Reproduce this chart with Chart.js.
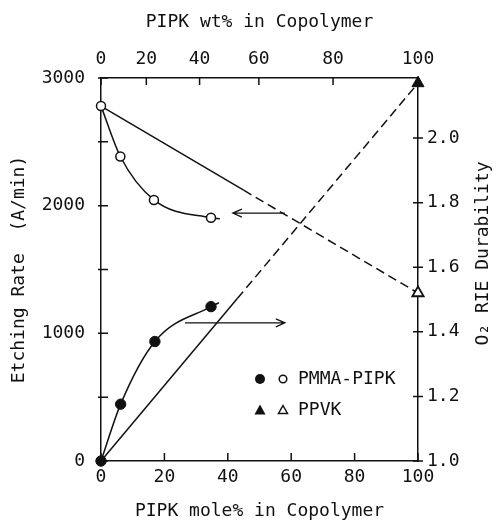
<!DOCTYPE html>
<html>
<head>
<meta charset="utf-8">
<script src="https://cdn.jsdelivr.net/npm/chart.js@4.4.0/dist/chart.umd.min.js"></script>
<style>
  html, body { margin: 0; padding: 0; background: #fff; }
  #wrap { width: 496px; height: 522px; }
</style>
</head>
<body>
<div id="wrap"><canvas id="chart" width="496" height="522"></canvas></div>
<script>
// ----------------------------------------------------
// DATA
// ----------------------------------------------------
const moleTicks = [0, 20, 40, 60, 80, 100];
const wtTickLabels = ["0", "20", "40", "60", "80", "100"];
const wtTickPos = [0, 14.3, 31.1, 49.8, 73.2, 100];   // mole% where each wt% tick sits
const rateTicks = [0, 500, 1000, 1500, 2000, 2500, 3000];
const durTicks = [1.0, 1.2, 1.4, 1.6, 1.8, 2.0];

// PMMA-PIPK etching rate (open circles, left axis)
const etchMole = [0, 6.1, 16.7, 34.7];
const etchRate = [2780, 2385, 2045, 1905];
const etchCurveMole = [0, 6.1, 16.7, 34.7, 37.5];
const etchCurveRate = [2780, 2385, 2045, 1905, 1898];

// PMMA-PIPK O2 RIE durability (filled circles, right axis)
const durMole = [0, 6.2, 17.0, 34.7];
const durValue = [1.0, 1.176, 1.37, 1.478];
const durCurveMole = [0, 6.2, 17.0, 34.7, 37.2];
const durCurveValue = [1.0, 1.176, 1.37, 1.478, 1.49];

// PPVK at 100 mole%
const ppvkMole = [100];
const ppvkRate = [1316];
const ppvkDur = [2.17];

// straight lines: solid over the measured range, dashed beyond
const rateLineMole = [0, 45, 100];
const rateLineVal = [2780, 2121, 1316];
const durLineMole = [0, 43, 100];
const durLineVal = [1.0, 1.503, 2.17];

const FONT = "'DejaVu Sans Mono', 'Liberation Mono', monospace";
const INK = "#111";

const pts = (xs, ys) => xs.map((x, i) => ({ x, y: ys[i] }));
const dashAfter = lim => ({ borderDash: c => c.p0.parsed.x >= lim ? [9, 5] : undefined });

// ----------------------------------------------------
// PLUGINS
// ----------------------------------------------------
const innerTicks = {
    id: "innerTicks",
    beforeDatasetsDraw(chart) {
        const { ctx, scales } = chart;
        ctx.save();
        ctx.strokeStyle = INK;
        ctx.lineWidth = 1.5;
        ctx.beginPath();
        scales.x.ticks.forEach(t => {
            const p = scales.x.getPixelForValue(t.value);
            ctx.moveTo(p, scales.x.top); ctx.lineTo(p, scales.x.top - 8);
        });
        scales.x2.ticks.forEach(t => {
            const p = scales.x2.getPixelForValue(t.value);
            ctx.moveTo(p, scales.x2.bottom); ctx.lineTo(p, scales.x2.bottom + 7);
        });
        scales.y.ticks.forEach(t => {
            const p = scales.y.getPixelForValue(t.value);
            ctx.moveTo(scales.y.right - 3, p); ctx.lineTo(scales.y.right + 7, p);
        });
        scales.y2.ticks.forEach(t => {
            const p = scales.y2.getPixelForValue(t.value);
            ctx.moveTo(scales.y2.left - 5, p); ctx.lineTo(scales.y2.left + 5, p);
        });
        ctx.stroke();
        ctx.restore();
    }
};

const notes = {
    id: "notes",
    afterDraw(chart) {
        const { ctx, scales, chartArea } = chart;
        const X = scales.x;
        ctx.save();
        ctx.strokeStyle = INK;
        ctx.fillStyle = INK;
        ctx.lineWidth = 1.3;

        // arrows pointing to the axis each curve belongs to
        const arrows = [
            { x0: 58, x1: 41.6, y: 1942, s: scales.y },
            { x0: 26.5, x1: 58, y: 1.428, s: scales.y2 }
        ];
        arrows.forEach(a => {
            const x0 = X.getPixelForValue(a.x0), x1 = X.getPixelForValue(a.x1);
            const y = a.s.getPixelForValue(a.y);
            const d = Math.sign(x1 - x0);
            ctx.beginPath();
            ctx.moveTo(x0, y); ctx.lineTo(x1, y);
            ctx.moveTo(x1 - d * 9, y - 4); ctx.lineTo(x1, y); ctx.lineTo(x1 - d * 9, y + 4);
            ctx.stroke();
        });

        // legend
        const lx = 260, ly = 379;
        ctx.lineWidth = 1.5;
        ctx.beginPath(); ctx.arc(lx, ly, 5, 0, Math.PI * 2); ctx.fill();
        ctx.beginPath(); ctx.arc(lx + 23, ly, 3.8, 0, Math.PI * 2); ctx.stroke();
        const ty = ly + 31;
        ctx.beginPath();
        ctx.moveTo(lx, ty - 5.5); ctx.lineTo(lx + 5.5, ty + 4.5); ctx.lineTo(lx - 5.5, ty + 4.5);
        ctx.closePath(); ctx.fill();
        ctx.beginPath();
        ctx.moveTo(lx + 23, ty - 4.5); ctx.lineTo(lx + 27.5, ty + 3.5); ctx.lineTo(lx + 18.5, ty + 3.5);
        ctx.closePath(); ctx.stroke();
        ctx.font = "18px " + FONT;
        ctx.textBaseline = "middle";
        ctx.textAlign = "left";
        ctx.fillText("PMMA-PIPK", lx + 38, ly);
        ctx.fillText("PPVK", lx + 38, ty);

        // right axis title, reading bottom to top
        ctx.translate(chart.width - 13, (chartArea.top + chartArea.bottom) / 2 - 16);
        ctx.rotate(-Math.PI / 2);
        ctx.textAlign = "center";
        ctx.fillText("O\u2082 RIE Durability", 0, 0);
        ctx.restore();
    }
};

// ----------------------------------------------------
// CHART
// ----------------------------------------------------
const tickFont = { family: FONT, size: 18 };
const border = { display: true, color: INK, width: 1.5 };
const noGrid = { display: false, drawTicks: false, tickLength: 0 };

new Chart(document.getElementById("chart"), {
    type: "line",
    data: {
        datasets: [
            { data: pts(etchMole, etchRate), yAxisID: "y", showLine: false, clip: false,
              pointRadius: 4.5, pointBackgroundColor: "#fff", pointBorderColor: INK, pointBorderWidth: 1.5 },
            { data: pts(durMole, durValue), yAxisID: "y2", showLine: false, clip: false,
              pointRadius: 5.2, pointBackgroundColor: INK, pointBorderColor: INK, pointBorderWidth: 1 },
            { data: pts(ppvkMole, ppvkRate), yAxisID: "y", showLine: false, clip: false, pointStyle: "triangle",
              pointRadius: 6.5, pointBackgroundColor: "#fff", pointBorderColor: INK, pointBorderWidth: 1.8 },
            { data: pts(ppvkMole, ppvkDur), yAxisID: "y2", showLine: false, clip: false, pointStyle: "triangle",
              pointRadius: 7, pointBackgroundColor: INK, pointBorderColor: INK, pointBorderWidth: 1 },
            { data: pts(etchCurveMole, etchCurveRate), yAxisID: "y", pointRadius: 0,
              borderColor: INK, borderWidth: 1.5, cubicInterpolationMode: "monotone" },
            { data: pts(durCurveMole, durCurveValue), yAxisID: "y2", pointRadius: 0,
              borderColor: INK, borderWidth: 1.5, cubicInterpolationMode: "monotone" },
            { data: pts(rateLineMole, rateLineVal), yAxisID: "y", pointRadius: 0, clip: false,
              borderColor: INK, borderWidth: 1.5, segment: dashAfter(40) },
            { data: pts(durLineMole, durLineVal), yAxisID: "y2", pointRadius: 0, clip: false,
              borderColor: INK, borderWidth: 1.5, segment: dashAfter(40) }
        ]
    },
    options: {
        responsive: false,
        animation: false,
        layout: { padding: 0 },
        plugins: { legend: { display: false }, tooltip: { enabled: false } },
        scales: {
            x: {
                type: "linear", position: "bottom", min: 0, max: 100,
                afterFit: s => { s.height = 61; },
                afterBuildTicks: s => { s.ticks = moleTicks.map(v => ({ value: v })); },
                grid: noGrid, border,
                ticks: { font: tickFont, color: INK, padding: 6, maxRotation: 0 },
                title: { display: true, text: "PIPK mole% in Copolymer", font: tickFont, color: INK, padding: 0 }
            },
            x2: {
                type: "linear", position: "top", min: 0, max: 100,
                afterFit: s => { s.height = 78; },
                afterBuildTicks: s => { s.ticks = wtTickPos.map(v => ({ value: v })); },
                grid: noGrid, border,
                ticks: { font: tickFont, color: INK, padding: 8, maxRotation: 0,
                         callback: (v, i) => wtTickLabels[i] },
                title: { display: true, text: "PIPK wt% in Copolymer", font: tickFont, color: INK, padding: { top: 12, bottom: 0 } }
            },
            y: {
                type: "linear", position: "left", min: 0, max: 3000,
                afterFit: s => { s.width = 101; },
                afterBuildTicks: s => { s.ticks = rateTicks.map(v => ({ value: v })); },
                grid: noGrid, border,
                ticks: { font: tickFont, color: INK, padding: 16, autoSkip: false,
                         callback: v => (v % 1000 === 0 ? String(v) : "") },
                title: { display: true, text: "Etching Rate  (A/min)", font: tickFont, color: INK, padding: { top: 9, bottom: 0 } }
            },
            y2: {
                type: "linear", position: "right", min: 1.0, max: 2.186,
                afterFit: s => { s.width = 78; },
                afterBuildTicks: s => { s.ticks = durTicks.map(v => ({ value: v })); },
                grid: noGrid, border,
                ticks: { font: tickFont, color: INK, padding: 9, autoSkip: false,
                         callback: v => v.toFixed(1) },
                title: { display: false }
            }
        }
    },
    plugins: [innerTicks, notes]
});
</script>
</body>
</html>
